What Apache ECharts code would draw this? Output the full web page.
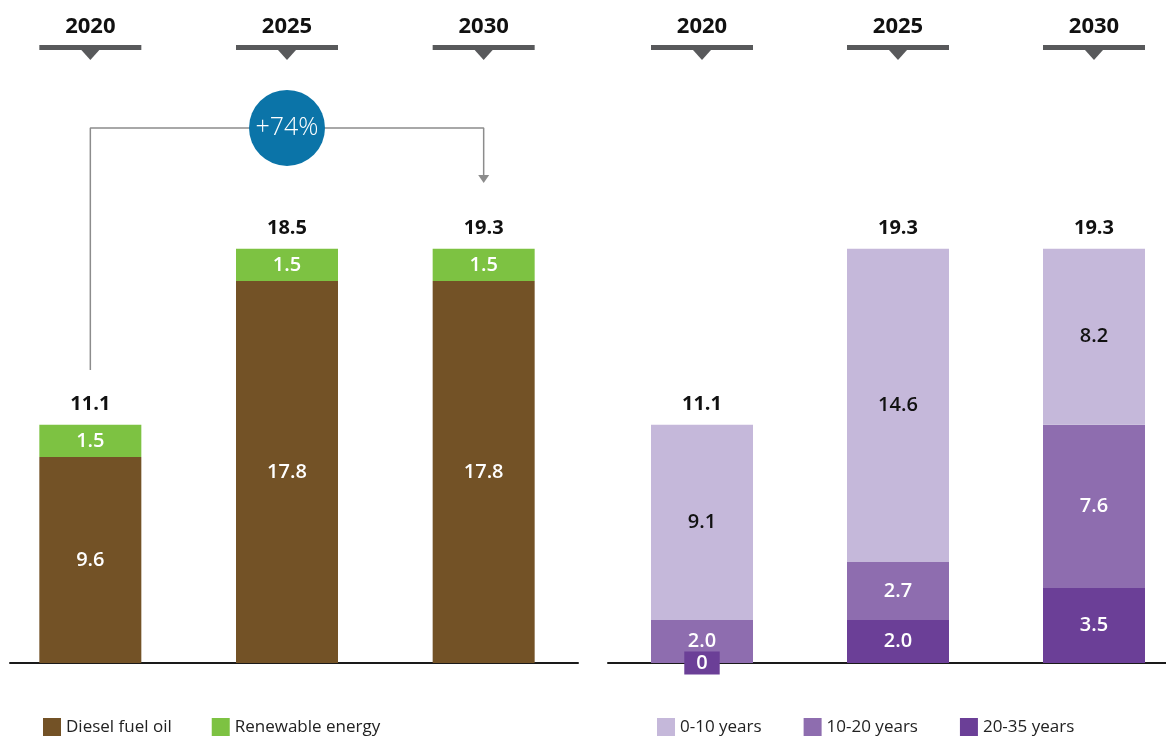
<!DOCTYPE html>
<html>
<head>
<meta charset="utf-8">
<script src="https://cdn.jsdelivr.net/npm/echarts@6/dist/echarts.min.js"></script>
<style>
  html, body { margin: 0; padding: 0; background: #ffffff; }
  #chart { width: 1166px; height: 736px; }
</style>
</head>
<body>
<div id="chart"></div>
<script>
// Years shown on both panels
const years = ['2020', '2025', '2030'];

// Left panel: fuel mix
const dieselFuelOil = [9.6, 17.8, 17.8];
const renewableEnergy = [1.5, 1.5, 1.5];
const fuelTotals = ['11.1', '18.5', '19.3'];

// Right panel: age of generating fleet
const age0to10 = [9.1, 14.6, 8.2];
const age10to20 = [2.0, 2.7, 7.6];
const age20to35 = [0, 2.0, 3.5];
const ageTotals = ['11.1', '19.3', '19.3'];

// Growth annotation between 2020 and 2030
const growthLabel = '+74%';
const bracketStart = 13.65;   // just above the 2020 total
const bracketLevel = 24.93;   // height of the horizontal run
const bracketEnd = 22.7;      // where the arrow stops over 2030

const FONT = '"Open Sans", "DejaVu Sans", sans-serif';
const C = {
  diesel: '#735226',
  renew: '#7DC242',
  a0: '#C5B8DA',
  a10: '#8E6DAF',
  a20: '#6B3F97',
  header: '#58595B',
  bracket: '#8C8C8C',
  bubble: '#0B74A8'
};
const Y_MAX = 28;
const BAR_W = 102;

const fmt = v => (v === 0 ? '0' : v.toFixed(1));

function segLabel(color) {
  return {
    show: true, position: 'inside', color: color,
    fontFamily: FONT, fontSize: 20, fontWeight: 600,
    formatter: p => fmt(p.value)
  };
}

function totalSeries(gridIdx, totals) {
  return {
    type: 'bar', xAxisIndex: gridIdx, yAxisIndex: gridIdx,
    stack: 's' + gridIdx, barWidth: BAR_W, silent: true,
    data: totals.map(() => 0),
    itemStyle: { color: 'transparent' },
    label: {
      show: true, position: 'top', distance: 10,
      color: '#111', fontFamily: FONT, fontSize: 20, fontWeight: 'bold',
      formatter: p => totals[p.dataIndex]
    }
  };
}

// Year heading with a bar and a small down-pointing notch
function headerSeries(gridIdx) {
  return {
    type: 'custom', xAxisIndex: gridIdx, yAxisIndex: gridIdx, silent: true,
    data: years.map((y, i) => [i, 0]),
    encode: { x: 0, y: 1 },
    renderItem: (params, api) => {
      const cx = api.coord([api.value(0), 0])[0];
      const y0 = params.coordSys.y;
      return {
        type: 'group',
        children: [
          { type: 'text', style: {
              text: years[params.dataIndex], x: cx, y: y0 - 35,
              align: 'center', verticalAlign: 'middle',
              fontFamily: FONT, fontSize: 22, fontWeight: 'bold', fill: '#111' } },
          { type: 'rect', shape: { x: cx - 51, y: y0 - 17, width: 102, height: 5 },
            style: { fill: C.header } },
          { type: 'polygon', shape: { points: [[cx - 9, y0 - 12], [cx + 9, y0 - 12], [cx, y0 - 2]] },
            style: { fill: C.header } }
        ]
      };
    }
  };
}

const catAxis = gi => ({
  type: 'category', gridIndex: gi, data: years,
  axisLine: { show: false }, axisTick: { show: false }, axisLabel: { show: false }
});
const valAxis = gi => ({
  type: 'value', gridIndex: gi, min: 0, max: Y_MAX,
  show: false, splitLine: { show: false }
});
const baseX = gi => ({
  type: 'value', gridIndex: gi, min: 0, max: 1,
  axisLine: { show: true, onZero: false, lineStyle: { color: '#1a1a1a', width: 2 } },
  axisTick: { show: false }, axisLabel: { show: false }, splitLine: { show: false }
});
const baseY = gi => ({ type: 'value', gridIndex: gi, min: 0, max: 1, show: false, splitLine: { show: false } });

const option = {
  animation: false,
  backgroundColor: '#ffffff',
  grid: [
    { left: -8, width: 590, top: 62, bottom: 73, outerBoundsMode: 'none' },
    { left: 604, width: 588, top: 62, bottom: 73, outerBoundsMode: 'none' },
    { left: 10, width: 568, top: 662, bottom: 73, outerBoundsMode: 'none' },
    { left: 608, right: 0, top: 662, bottom: 73, outerBoundsMode: 'none' }
  ],
  xAxis: [catAxis(0), catAxis(1), baseX(2), baseX(3)],
  yAxis: [valAxis(0), valAxis(1), baseY(2), baseY(3)],
  legend: [
    {
      left: 43, top: 718, padding: 0, itemWidth: 18, itemHeight: 18, itemGap: 40,
      icon: 'rect', selectedMode: false,
      textStyle: { fontFamily: FONT, fontSize: 17, color: '#222' },
      data: ['Diesel fuel oil', 'Renewable energy']
    },
    {
      left: 657, top: 718, padding: 0, itemWidth: 18, itemHeight: 18, itemGap: 42,
      icon: 'rect', selectedMode: false,
      textStyle: { fontFamily: FONT, fontSize: 17, color: '#222' },
      data: ['0-10 years', '10-20 years', '20-35 years']
    }
  ],
  series: [
    // Left panel
    {
      name: 'Diesel fuel oil', type: 'bar', xAxisIndex: 0, yAxisIndex: 0,
      stack: 's0', barWidth: BAR_W, data: dieselFuelOil,
      itemStyle: { color: C.diesel }, label: segLabel('#ffffff')
    },
    {
      name: 'Renewable energy', type: 'bar', xAxisIndex: 0, yAxisIndex: 0,
      stack: 's0', barWidth: BAR_W, data: renewableEnergy,
      itemStyle: { color: C.renew }, label: segLabel('#ffffff')
    },
    totalSeries(0, fuelTotals),
    headerSeries(0),
    {
      // bracket from the 2020 total over to 2030
      type: 'line', xAxisIndex: 0, yAxisIndex: 0, silent: true,
      symbol: 'none', z: 1,
      lineStyle: { color: C.bracket, width: 1.5 },
      data: [[0, bracketStart], [0, bracketLevel], [2, bracketLevel], [2, bracketEnd]]
    },
    {
      type: 'scatter', xAxisIndex: 0, yAxisIndex: 0, silent: true,
      symbol: 'triangle', symbolRotate: 180, symbolSize: [11, 8],
      itemStyle: { color: C.bracket, opacity: 1 },
      data: [[2, bracketEnd - 0.15]]
    },
    {
      type: 'scatter', xAxisIndex: 0, yAxisIndex: 0, silent: true, z: 5,
      symbol: 'circle', symbolSize: 76,
      itemStyle: { color: C.bubble, opacity: 1 },
      label: {
        show: true, position: 'inside', formatter: growthLabel,
        color: '#ffffff', fontFamily: FONT, fontSize: 25, fontWeight: 300
      },
      data: [[1, bracketLevel]]
    },
    // Right panel
    {
      name: '20-35 years', type: 'bar', xAxisIndex: 1, yAxisIndex: 1,
      stack: 's1', barWidth: BAR_W,
      data: age20to35.map(v => v === 0
        ? { value: v, label: { backgroundColor: C.a20, padding: [0, 12, 0, 12], lineHeight: 23 } }
        : v),
      itemStyle: { color: C.a20 }, label: segLabel('#ffffff')
    },
    {
      name: '10-20 years', type: 'bar', xAxisIndex: 1, yAxisIndex: 1,
      stack: 's1', barWidth: BAR_W, data: age10to20,
      itemStyle: { color: C.a10 }, label: segLabel('#ffffff')
    },
    {
      name: '0-10 years', type: 'bar', xAxisIndex: 1, yAxisIndex: 1,
      stack: 's1', barWidth: BAR_W, data: age0to10,
      itemStyle: { color: C.a0 }, label: segLabel('#111111')
    },
    totalSeries(1, ageTotals),
    headerSeries(1),
    // Baselines
    { type: 'line', xAxisIndex: 2, yAxisIndex: 2, data: [], silent: true },
    { type: 'line', xAxisIndex: 3, yAxisIndex: 3, data: [], silent: true }
  ]
};

const chart = echarts.init(document.getElementById('chart'), null, { renderer: 'canvas' });
chart.setOption(option);
</script>
</body>
</html>
